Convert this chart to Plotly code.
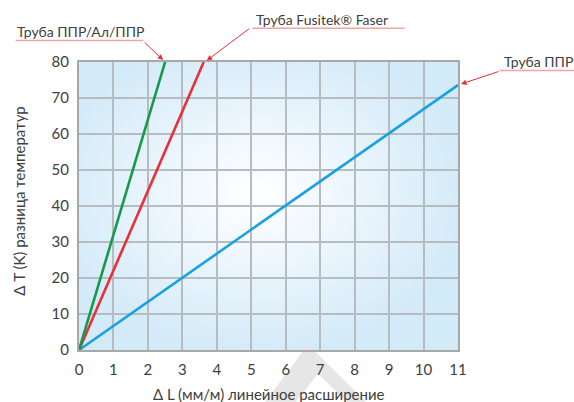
import base64
import plotly.graph_objects as go

# ---- data ----
x_ticks = list(range(0, 12))
y_ticks = list(range(0, 90, 10))

ppr_al_x = [0, 2.5]
ppr_al_y = [0, 80]
fusitek_x = [0, 3.62]
fusitek_y = [0, 80]
ppr_x = [0, 11]
ppr_y = [0, 73.6]

label_ppr_al = "Труба ППР/Ал/ППР"
label_fusitek = "Труба Fusitek® Faser"
label_ppr = "Труба ППР"
x_title = "Δ L (мм/м) линейное расширение"
y_title = "Δ T (K) разница температур"

GREEN = "#16994a"
RED = "#e8303a"
BLUE = "#19a2df"
PINK = "#f2a3a6"
TXT = "#404040"
FONT = "Lato"

W, H = 574, 402
L, R, T, B = 78.5, 115.7, 62.3, 51.7
PW, PH = W - L - R, H - T - B
XMAX, YMAX = 11, 80


def px(xp):
    return (xp - L) / PW


def py(yp):
    return (H - B - yp) / PH


fig = go.Figure()
for xs, ys, c in [(ppr_x, ppr_y, BLUE), (fusitek_x, fusitek_y, RED), (ppr_al_x, ppr_al_y, GREEN)]:
    fig.add_trace(go.Scatter(x=xs, y=ys, mode="lines", line=dict(color=c, width=2.6),
                             showlegend=False, hoverinfo="skip", cliponaxis=False))

# background radial gradient for the plot area
svg = ('<svg xmlns="http://www.w3.org/2000/svg" width="400" height="300" '
       'preserveAspectRatio="none"><defs><radialGradient id="g" cx="0.47" cy="0.46" r="0.56">'
       '<stop offset="0" stop-color="#ffffff"/><stop offset="0.35" stop-color="#f0f8fe"/>'
       '<stop offset="1" stop-color="#d3eaf8"/></radialGradient></defs>'
       '<rect width="100%" height="100%" fill="url(#g)"/></svg>')
src = "data:image/svg+xml;base64," + base64.b64encode(svg.encode()).decode()
fig.add_layout_image(dict(source=src, xref="paper", yref="paper", x=0, y=1, sizex=1, sizey=1,
                          sizing="stretch", xanchor="left", yanchor="top", layer="below"))

shapes = []
# watermark chevron below the plot
pts = [(265, 402), (308, 345), (366, 402), (347, 402), (318, 374), (296, 402)]
path = "M " + " L ".join(f"{px(a):.4f},{py(b):.4f}" for a, b in pts) + " Z"
shapes.append(dict(type="path", path=path, xref="paper", yref="paper",
                   fillcolor="#e6e6e6", line=dict(width=0), layer="below"))
# label underlines
for x0, x1, yy in [(15, 143, 40.7), (252, 405, 28.6), (500, 576, 70.7)]:
    shapes.append(dict(type="line", xref="paper", yref="paper", x0=px(x0), x1=px(x1),
                       y0=py(yy), y1=py(yy), line=dict(color=PINK, width=1.5)))

annotations = []
# arrows (head placed near the end of each series, in paper units)
for xe, ye, dxp, dyp, ax, ay in [(ppr_al_x[-1], ppr_al_y[-1], -2, -2, -20, -19),
                                 (fusitek_x[-1], fusitek_y[-1], 3, -1.5, 44, -33),
                                 (ppr_x[-1], ppr_y[-1], 3, -1, 39, -13)]:
    hx = xe / XMAX + dxp / PW
    hy = ye / YMAX - dyp / PH
    annotations.append(dict(x=hx, y=hy, xref="paper", yref="paper", text=" ", showarrow=True,
                            ax=ax, ay=ay, arrowhead=2, arrowsize=1.1, arrowwidth=1,
                            arrowcolor=RED, standoff=0, font=dict(size=1)))
# label texts
for txt, x0, yc in [(label_ppr_al, 14, 31.5), (label_fusitek, 254, 19.5), (label_ppr, 502, 61.5)]:
    annotations.append(dict(x=px(x0), y=py(yc), xref="paper", yref="paper", text=txt,
                            showarrow=False, xanchor="left", yanchor="middle",
                            font=dict(family=FONT, size=14, color=TXT)))
# axis titles
annotations.append(dict(x=px(269), y=py(394.5), xref="paper", yref="paper", text=x_title,
                        showarrow=False, xanchor="center", yanchor="middle",
                        font=dict(family=FONT, size=15, color=TXT)))
annotations.append(dict(x=px(19), y=py(201.5), xref="paper", yref="paper", text=y_title,
                        showarrow=False, xanchor="center", yanchor="middle", textangle=-90,
                        font=dict(family=FONT, size=15, color=TXT)))

fig.update_layout(
    width=W, height=H, margin=dict(l=L, r=R, t=T, b=B),
    paper_bgcolor="white", plot_bgcolor="rgba(0,0,0,0)",
    shapes=shapes, annotations=annotations,
    font=dict(family=FONT, size=15, color=TXT),
)
fig.update_xaxes(range=[0, XMAX], tickvals=x_ticks, ticktext=[str(v) for v in x_ticks],
                 showgrid=True, gridcolor="#b7bcc0", gridwidth=1.5,
                 showline=True, linecolor="#a8a8a8", linewidth=2, mirror=True,
                 zeroline=False, ticks="", ticklabelstandoff=5,
                 tickfont=dict(family=FONT, size=15, color=TXT), fixedrange=True)
fig.update_yaxes(range=[0, YMAX], tickvals=y_ticks, ticktext=[str(v) for v in y_ticks],
                 showgrid=True, gridcolor="#b7bcc0", gridwidth=1.5,
                 showline=True, linecolor="#a8a8a8", linewidth=2, mirror=True,
                 zeroline=False, ticks="", ticklabelstandoff=5,
                 tickfont=dict(family=FONT, size=15, color=TXT), fixedrange=True)

fig.write_html("out.html", config={"displayModeBar": False},
               post_script=["document.body.style.margin='0px';"])
